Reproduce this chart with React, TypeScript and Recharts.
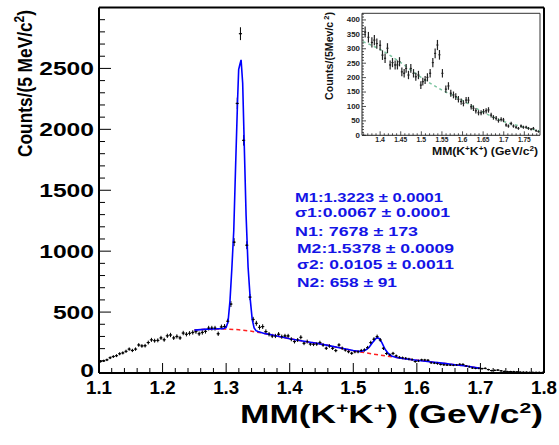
import React from "react";
import { ComposedChart, Scatter, Line, XAxis, YAxis, ErrorBar, ReferenceLine } from "recharts";

const FONT = "'Liberation Sans', Arial, Helvetica, sans-serif";

// ---------------- main histogram (5 MeV bins) ----------------
const MAIN_BIN_START = 1.1;
const MAIN_BIN_WIDTH = 0.005;
const mainCounts = [
  95, 100, 108, 125, 135, 142, 158, 165, 178, 196,
  185, 196, 230, 222, 224, 250, 272, 265, 268, 288,
  273, 305, 312, 288, 300, 288, 328, 318, 326, 333,
  340, 322, 333, 342, 368, 368, 368, 322, 378, 382,
  425, 566, 1074, 2213, 2785, 1910, 1049, 623, 440, 408,
  375, 381, 340, 318, 304, 304, 318, 298, 304, 304,
  277, 258, 271, 293, 244, 258, 238, 236, 238, 249,
  230, 203, 222, 203, 184, 230, 203, 189, 175, 162,
  175, 175, 184, 189, 208, 249, 277, 298, 271, 203,
  160, 148, 161, 140, 128, 124, 120, 114, 110, 95,
  100, 107, 106, 104, 85, 82, 78, 71, 68, 66,
  66, 64, 66, 71, 70, 58, 52, 42, 38, 38,
  36, 38, 28, 20, 22, 24, 18, 13, 11, 12,
  11, 9, 7, 6, 6, 5, 5, 5, 5, 4,
];

// total fit (blue)
const fitMass = [
  1.25, 1.26, 1.27, 1.28, 1.29, 1.295, 1.3, 1.303, 1.306, 1.309,
  1.312, 1.315, 1.318, 1.3197, 1.3215, 1.3235, 1.326, 1.3287, 1.3314, 1.3345,
  1.338, 1.341, 1.344, 1.347, 1.35, 1.36, 1.38, 1.4, 1.42, 1.44,
  1.46, 1.48, 1.5, 1.51, 1.515, 1.52, 1.525, 1.53, 1.535, 1.538,
  1.541, 1.545, 1.55, 1.555, 1.56, 1.57, 1.58, 1.6, 1.62, 1.64,
  1.66, 1.68, 1.7,
];
const fitCounts = [
  352, 356, 360, 362, 363, 364, 375, 420, 590, 860,
  1170, 1720, 2240, 2490, 2530, 2570, 2380, 1830, 1290, 870,
  600, 440, 370, 348, 340, 325, 303, 281, 263, 246,
  227, 205, 184, 177, 180, 190, 212, 248, 280, 290,
  282, 250, 195, 160, 140, 125, 117, 105, 93, 81,
  68, 55, 38,
];

// background (red dashed)
const bkgMass = [
  1.25, 1.27, 1.29, 1.3, 1.32, 1.34, 1.36, 1.38, 1.4, 1.42,
  1.44, 1.46, 1.48, 1.5, 1.52, 1.54, 1.56, 1.58, 1.6, 1.62,
  1.64, 1.66, 1.68, 1.7,
];
const bkgCounts = [
  352, 360, 362, 361, 355, 343, 325, 303, 281, 263,
  246, 227, 205, 183, 165, 148, 133, 118, 105, 93,
  81, 68, 55, 38,
];

const mainXTickLabels = [1.1, 1.2, 1.3, 1.4, 1.5, 1.6, 1.7, 1.8];
const mainYTickLabels = [0, 500, 1000, 1500, 2000, 2500];

// ---------------- inset ----------------
const insetMass = [
  1.3636, 1.3716, 1.38, 1.386, 1.392, 1.4, 1.4057, 1.412, 1.4178, 1.4243,
  1.43, 1.4364, 1.442, 1.447, 1.4527, 1.4583, 1.4631, 1.4688, 1.4745, 1.481,
  1.4866, 1.493, 1.4988, 1.5036, 1.5092, 1.5148, 1.5214, 1.5279, 1.5335, 1.5391,
  1.544, 1.5512, 1.5595, 1.5658, 1.5715, 1.578, 1.5836, 1.59, 1.5966, 1.6022,
  1.6087, 1.6144, 1.621, 1.6265, 1.6323, 1.6388, 1.645, 1.651, 1.6573, 1.663,
  1.6694, 1.675, 1.6816, 1.6872, 1.6937, 1.6993, 1.7058, 1.7114, 1.718, 1.7236,
  1.73, 1.7357, 1.742, 1.7478, 1.7544, 1.76, 1.7665, 1.772, 1.7786, 1.7843,
];
const insetCounts = [
  358, 340, 322, 330, 318, 312, 278, 267, 302, 244,
  252, 244, 244, 255, 220, 215, 232, 209, 232, 215,
  203, 209, 174, 186, 192, 201, 215, 252, 284, 313,
  279, 215, 160, 171, 146, 140, 134, 125, 117, 111,
  122, 122, 99, 94, 85, 78, 78, 82, 85, 88,
  70, 62, 59, 51, 55, 53, 36, 32, 41, 32,
  28, 24, 32, 28, 28, 24, 21, 24, 16, 13,
];
const insetBkgMass = [1.358, 1.4, 1.45, 1.5, 1.55, 1.6, 1.65, 1.7, 1.75, 1.788];
const insetBkgCounts = [325, 298, 252, 200, 157, 121, 80, 48, 28, 15];

const insetXTickLabels = [1.4, 1.45, 1.5, 1.55, 1.6, 1.65, 1.7, 1.75];
const insetYTickLabels = [0, 50, 100, 150, 200, 250, 300, 350, 400];

const fitTextLines = [
  "M1:1.3223 \u00b1 0.0001",
  "\u03c31:0.0067 \u00b1 0.0001",
  "N1: 7678 \u00b1 173",
  "M2:1.5378 \u00b1 0.0009",
  "\u03c32: 0.0105 \u00b1 0.0011",
  "N2: 658 \u00b1 91",
];

// ---------------- tables ----------------
const mainData = mainCounts.map((c, i) => ({
  x: +(MAIN_BIN_START + MAIN_BIN_WIDTH * (i + 0.5)).toFixed(4),
  y: c,
  ex: MAIN_BIN_WIDTH / 2,
  ey: Math.sqrt(c),
}));
const fitData = fitMass.map((m, i) => ({ x: m, y: fitCounts[i] }));
const bkgData = bkgMass.map((m, i) => ({ x: m, y: bkgCounts[i] }));
const insetData = insetMass.map((m, i) => ({ x: m, y: insetCounts[i], ex: 0.0025, ey: Math.sqrt(insetCounts[i]) }));
const insetBkgData = insetBkgMass.map((m, i) => ({ x: m, y: insetBkgCounts[i] }));

const range = (a: number, b: number, step: number) => {
  const out: number[] = [];
  const n = Math.round((b - a) / step);
  for (let k = 0; k <= n; k++) out.push(+(a + k * step).toFixed(4));
  return out;
};
const isIn = (v: number, list: number[]) => list.some((t) => Math.abs(t - v) < 1e-6);

const mainXTicks = range(1.1, 1.8, 0.02);
const mainYTicks = range(0, 2900, 100);
const insetXTicks = range(1.36, 1.78, 0.01);
const insetYTicks = range(0, 420, 10);

// ---------------- tick renderers ----------------
const MainXTick = (p: any) => {
  const { x, y, payload } = p;
  const major = isIn(payload.value, mainXTickLabels);
  const label = String(payload.value);
  return (
    <g>
      <line x1={x} x2={x} y1={y} y2={y - (major ? 10 : 5)} stroke="#000" strokeWidth={1} />
      {major && (
        <text
          x={x}
          y={y + 21}
          textAnchor="middle"
          fontSize={17.5}
          fontWeight="bold"
          fontFamily={FONT}
          fill="#000"
          textLength={26}
          lengthAdjust="spacingAndGlyphs"
        >
          {label}
        </text>
      )}
    </g>
  );
};

const MainYTick = (p: any) => {
  const { x, y, payload } = p;
  const major = isIn(payload.value, mainYTickLabels);
  const label = String(payload.value);
  const dy = payload.value === 0 ? 4 : 6.5;
  return (
    <g>
      <line x1={x} x2={x + (major ? 12 : 6)} y1={y} y2={y} stroke="#000" strokeWidth={1} />
      {major && (
        <text
          x={x - 5}
          y={y + dy}
          textAnchor="end"
          fontSize={18.5}
          fontWeight="bold"
          fontFamily={FONT}
          fill="#000"
          textLength={label.length * 13.7}
          lengthAdjust="spacingAndGlyphs"
        >
          {label}
        </text>
      )}
    </g>
  );
};

const InsetXTick = (p: any) => {
  const { x, y, payload } = p;
  const major = isIn(payload.value, insetXTickLabels);
  const label = String(payload.value);
  return (
    <g>
      <line x1={x} x2={x} y1={y} y2={y - (major ? 4 : 2)} stroke="#222" strokeWidth={0.8} />
      {major && (
        <text
          x={x}
          y={y + 7}
          textAnchor="middle"
          fontSize={6.8}
          fontWeight="bold"
          fontFamily={FONT}
          fill="#222"
          textLength={label.length * 3.2}
          lengthAdjust="spacingAndGlyphs"
        >
          {label}
        </text>
      )}
    </g>
  );
};

const InsetYTick = (p: any) => {
  const { x, y, payload } = p;
  const major = isIn(payload.value, insetYTickLabels);
  const label = String(payload.value);
  return (
    <g>
      <line x1={x} x2={x + (major ? 4 : 2)} y1={y} y2={y} stroke="#222" strokeWidth={0.8} />
      {major && (
        <text
          x={x - 2}
          y={y + 2.4}
          textAnchor="end"
          fontSize={6.8}
          fontWeight="bold"
          fontFamily={FONT}
          fill="#222"
          textLength={label.length * 4.4}
          lengthAdjust="spacingAndGlyphs"
        >
          {label}
        </text>
      )}
    </g>
  );
};

const MainDot = (p: any) => <circle cx={p.cx} cy={p.cy} r={0.9} fill="#000" />;
const InsetDot = (p: any) => <circle cx={p.cx} cy={p.cy} r={0.7} fill="#222" />;

const fitTextPos = [
  { x: 295, y: 201.7, w: 148 },
  { x: 295, y: 217.3, w: 155 },
  { x: 295, y: 236, w: 123 },
  { x: 297, y: 252.7, w: 157 },
  { x: 297, y: 269.3, w: 157 },
  { x: 297, y: 286.7, w: 100 },
];

export default function App() {
  return (
    <div style={{ position: "absolute", left: 0, top: 0, width: 559, height: 445, background: "#fff" }}>
      <div style={{ position: "absolute", left: 0, top: 0 }}>
        <ComposedChart width={559} height={445} margin={{ top: 7.5, right: 15, bottom: 0, left: 0 }}>
          <XAxis
            type="number"
            dataKey="x"
            domain={[1.1, 1.8]}
            allowDataOverflow
            ticks={mainXTicks}
            interval={0}
            tickSize={0}
            tickMargin={0}
            tickLine={false}
            axisLine={{ stroke: "#000", strokeWidth: 2 }}
            height={72}
            tick={(p: any) => <MainXTick {...p} />}
          />
          <YAxis
            type="number"
            dataKey="y"
            domain={[0, 3000]}
            allowDataOverflow
            ticks={mainYTicks}
            interval={0}
            tickSize={0}
            tickMargin={0}
            tickLine={false}
            axisLine={{ stroke: "#000", strokeWidth: 2 }}
            width={99}
            tick={(p: any) => <MainYTick {...p} />}
          />
          <ReferenceLine y={3000} stroke="#000" strokeWidth={2} />
          <ReferenceLine x={1.8} stroke="#000" strokeWidth={2} />
          <Scatter data={mainData} dataKey="y" shape={MainDot} isAnimationActive={false}>
            <ErrorBar dataKey="ey" direction="y" width={0} stroke="#000" strokeWidth={1} isAnimationActive={false} />
            <ErrorBar dataKey="ex" direction="x" width={0} stroke="#000" strokeWidth={1} isAnimationActive={false} />
          </Scatter>
          <Line
            data={bkgData}
            dataKey="y"
            type="linear"
            stroke="#ff2020"
            strokeWidth={1.5}
            strokeDasharray="4 3"
            dot={false}
            isAnimationActive={false}
          />
          <Line
            data={fitData}
            dataKey="y"
            type="linear"
            stroke="#0000ff"
            strokeWidth={1.6}
            dot={false}
            isAnimationActive={false}
          />
        </ComposedChart>
      </div>

      <div style={{ position: "absolute", left: 300, top: 0 }}>
        <ComposedChart width={250} height={165} margin={{ top: 13.3, right: 10, bottom: 0, left: 0 }}>
          <XAxis
            type="number"
            dataKey="x"
            domain={[1.356, 1.788]}
            allowDataOverflow
            ticks={insetXTicks}
            interval={0}
            tickSize={0}
            tickMargin={0}
            tickLine={false}
            axisLine={{ stroke: "#222", strokeWidth: 1 }}
            height={29.7}
            tick={(p: any) => <InsetXTick {...p} />}
          />
          <YAxis
            type="number"
            dataKey="y"
            domain={[0, 423]}
            allowDataOverflow
            ticks={insetYTicks}
            interval={0}
            tickSize={0}
            tickMargin={0}
            tickLine={false}
            axisLine={{ stroke: "#222", strokeWidth: 1 }}
            width={62}
            tick={(p: any) => <InsetYTick {...p} />}
          />
          <ReferenceLine y={423} stroke="#333" strokeWidth={1} />
          <ReferenceLine x={1.788} stroke="#333" strokeWidth={1} />
          <Line
            data={insetBkgData}
            dataKey="y"
            type="monotone"
            stroke="#7cc4a0"
            strokeWidth={1.5}
            strokeDasharray="3 3"
            dot={false}
            isAnimationActive={false}
          />
          <Scatter data={insetData} dataKey="y" shape={InsetDot} isAnimationActive={false}>
            <ErrorBar dataKey="ey" direction="y" width={0} stroke="#222" strokeWidth={1.2} isAnimationActive={false} />
            <ErrorBar dataKey="ex" direction="x" width={0} stroke="#222" strokeWidth={1} isAnimationActive={false} />
          </Scatter>
        </ComposedChart>
      </div>

      <svg
        width={559}
        height={445}
        style={{ position: "absolute", left: 0, top: 0, pointerEvents: "none" }}
        fontFamily={FONT}
      >
        {/* main y title */}
        <text
          transform="translate(32,83.5) scale(1.3,1) rotate(-90)"
          textAnchor="middle"
          fontSize={16}
          fontWeight="bold"
          fill="#000"
          textLength={147}
          lengthAdjust="spacingAndGlyphs"
        >
          Counts/(5 MeV/c<tspan dy={-6} fontSize={11}>2</tspan>
          <tspan dy={6}>)</tspan>
        </text>
        {/* main x title */}
        <text
          x={240}
          y={423}
          fontSize={25}
          fontWeight="bold"
          fill="#000"
          textLength={303}
          lengthAdjust="spacingAndGlyphs"
        >
          MM(K<tspan dy={-10} fontSize={15}>+</tspan>
          <tspan dy={10}>K</tspan>
          <tspan dy={-10} fontSize={15}>+</tspan>
          <tspan dy={10}>) (GeV/c</tspan>
          <tspan dy={-10} fontSize={15}>2</tspan>
          <tspan dy={10}>)</tspan>
        </text>
        {/* fit parameters */}
        {fitTextLines.map((t, i) => (
          <text
            key={i}
            x={fitTextPos[i].x}
            y={fitTextPos[i].y}
            fontSize={12}
            fontWeight="bold"
            fill="#1414e6"
            textLength={fitTextPos[i].w}
            lengthAdjust="spacingAndGlyphs"
          >
            {t}
          </text>
        ))}
        {/* inset titles */}
        <text
          x={432}
          y={155}
          fontSize={10.5}
          fontWeight="bold"
          fill="#111"
          textLength={106}
          lengthAdjust="spacingAndGlyphs"
        >
          MM(K<tspan dy={-4} fontSize={7}>+</tspan>
          <tspan dy={4}>K</tspan>
          <tspan dy={-4} fontSize={7}>+</tspan>
          <tspan dy={4}>) (GeV/c</tspan>
          <tspan dy={-4} fontSize={7}>2</tspan>
          <tspan dy={4}>)</tspan>
        </text>
        <text
          transform="translate(333,56) scale(1.3,1) rotate(-90)"
          textAnchor="middle"
          fontSize={8.5}
          fontWeight="bold"
          fill="#111"
          textLength={88}
          lengthAdjust="spacingAndGlyphs"
        >
          Counts/(5Mev/c<tspan dy={-3} fontSize={6}> 2</tspan>
          <tspan dy={3}>)</tspan>
        </text>
      </svg>
    </div>
  );
}
